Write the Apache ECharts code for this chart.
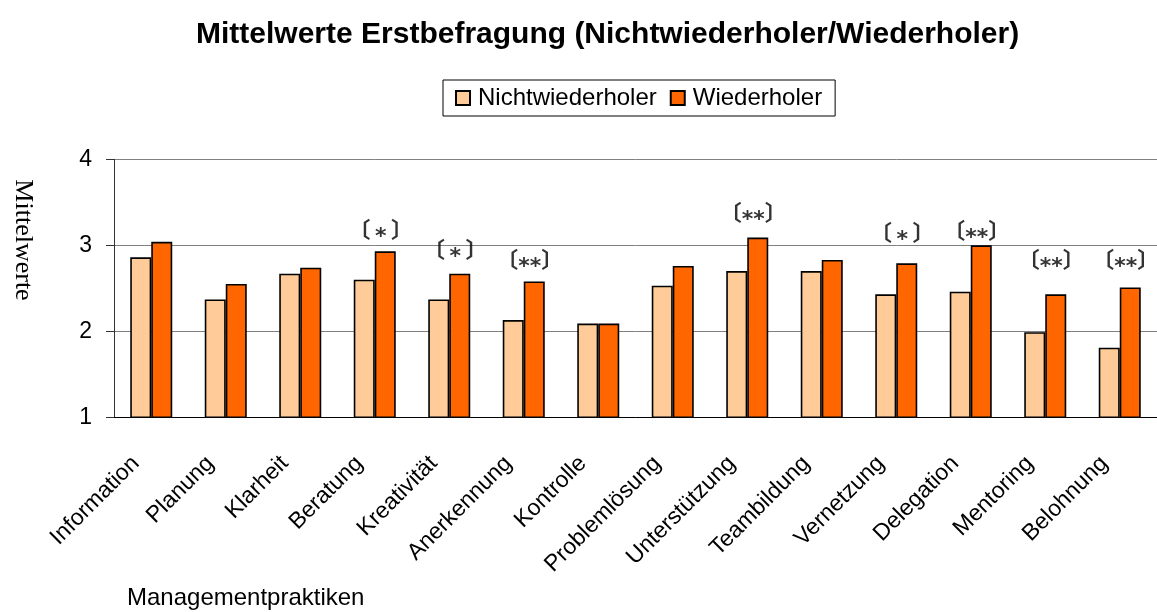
<!DOCTYPE html>
<html>
<head>
<meta charset="utf-8">
<script src="https://cdn.jsdelivr.net/npm/echarts@6/dist/echarts.min.js"></script>
<style>
  html, body { margin: 0; padding: 0; background: #fff; }
  #chart { width: 1157px; height: 612px; }
</style>
</head>
<body>
<div id="chart"></div>
<script>
// Kategorien (Managementpraktiken)
const categories = ['Information', 'Planung', 'Klarheit', 'Beratung', 'Kreativität', 'Anerkennung', 'Kontrolle',
  'Problemlösung', 'Unterstützung', 'Teambildung', 'Vernetzung', 'Delegation', 'Mentoring', 'Belohnung']
// Mittelwerte
const nichtwiederholer = [2.86, 2.37, 2.67, 2.60, 2.37, 2.13, 2.09, 2.53, 2.70, 2.70, 2.43, 2.46, 1.99, 1.81]
const wiederholer = [3.04, 2.55, 2.74, 2.93, 2.67, 2.58, 2.09, 2.76, 3.09, 2.83, 2.79, 3.00, 2.43, 2.51]
// Signifikanz-Markierungen und ihre Höhe
const signifikanz = ['', '', '', '*', '*', '**', '', '', '**', '', '*', '**', '**', '**']
const signifikanzHoehe = [null, null, null, 3.19, 2.96, 2.84, null, null, 3.39, null, 3.16, 3.18, 2.84, 2.84]
// y-Achse
const yMin = 1
const yMax = 4
const yStep = 1

const sans = '"Liberation Sans", Arial, sans-serif'

const sigData = []
signifikanz.forEach((s, i) => {
  if (s) sigData.push({ value: [i, signifikanzHoehe[i]], stars: s })
})

const myChart = echarts.init(document.getElementById('chart'))
const option = {
  animation: false,
  backgroundColor: '#fff',
  title: {
    text: 'Mittelwerte Erstbefragung (Nichtwiederholer/Wiederholer)',
    left: 191,
    top: 15,
    textStyle: { fontFamily: sans, fontSize: 30, fontWeight: 'bold', color: '#000' }
  },
  legend: {
    data: ['Nichtwiederholer', 'Wiederholer'],
    left: 443,
    top: 80,
    padding: [6, 13, 6, 12],
    itemGap: 13,
    itemWidth: 14,
    itemHeight: 14,
    icon: 'rect',
    borderColor: '#000',
    borderWidth: 1,
    textStyle: { fontFamily: sans, fontSize: 24, color: '#000', padding: [0, 0, 0, 3] }
  },
  grid: { left: 114, top: 159.3, width: 1047, height: 258 },
  xAxis: {
    type: 'category',
    data: categories,
    axisLine: { lineStyle: { color: '#000', width: 1 } },
    axisTick: { length: 7, lineStyle: { color: '#666' } },
    axisLabel: {
      interval: 0,
      rotate: 45,
      margin: 27,
      padding: [0, 22, 0, 0],
      fontFamily: sans,
      fontSize: 23,
      color: '#000'
    }
  },
  yAxis: {
    type: 'value',
    min: yMin,
    max: yMax,
    interval: yStep,
    axisLine: { show: true, lineStyle: { color: '#333' } },
    axisTick: { show: true, length: 8, lineStyle: { color: '#333' } },
    axisLabel: { margin: 22, fontFamily: sans, fontSize: 23, color: '#000' },
    splitLine: { lineStyle: { color: '#808080', width: 1 } }
  },
  graphic: [
    {
      type: 'text',
      x: 23,
      y: 240,
      rotation: -Math.PI / 2,
      style: {
        text: 'Mittelwerte',
        font: '26px "Liberation Serif", "Times New Roman", serif',
        fill: '#000',
        align: 'center',
        verticalAlign: 'middle',
        textAlign: 'center',
        textVerticalAlign: 'middle'
      }
    },
    {
      type: 'text',
      x: 127,
      y: 598,
      style: {
        text: 'Managementpraktiken',
        font: '24px "Liberation Sans", Arial, sans-serif',
        fill: '#000',
        align: 'left',
        verticalAlign: 'middle',
        textAlign: 'left',
        textVerticalAlign: 'middle'
      }
    }
  ],
  series: [
    {
      name: 'Nichtwiederholer',
      type: 'bar',
      data: nichtwiederholer,
      barWidth: 21,
      barGap: '0%',
      itemStyle: { color: '#FFCC99', borderColor: '#000', borderWidth: 1.6 }
    },
    {
      name: 'Wiederholer',
      type: 'bar',
      data: wiederholer,
      barWidth: 21,
      barGap: '0%',
      itemStyle: { color: '#FF6600', borderColor: '#000', borderWidth: 1.6 }
    },
    {
      name: 'Signifikanz',
      type: 'scatter',
      data: sigData,
      symbolSize: 1,
      silent: true,
      itemStyle: { color: 'rgba(0,0,0,0)' },
      label: {
        show: true,
        position: 'inside',
        offset: [6, 0],
        color: '#000',
        fontFamily: '"Noto Sans CJK SC", "DejaVu Sans"',
        fontWeight: 'bold',
        fontSize: 22,
        formatter: p => p.data.stars === '*' ? '〔\u2009⁎\u2009〕' : '〔⁎⁎〕'
      }
    }
  ]
}
myChart.setOption(option)
</script>
</body>
</html>
